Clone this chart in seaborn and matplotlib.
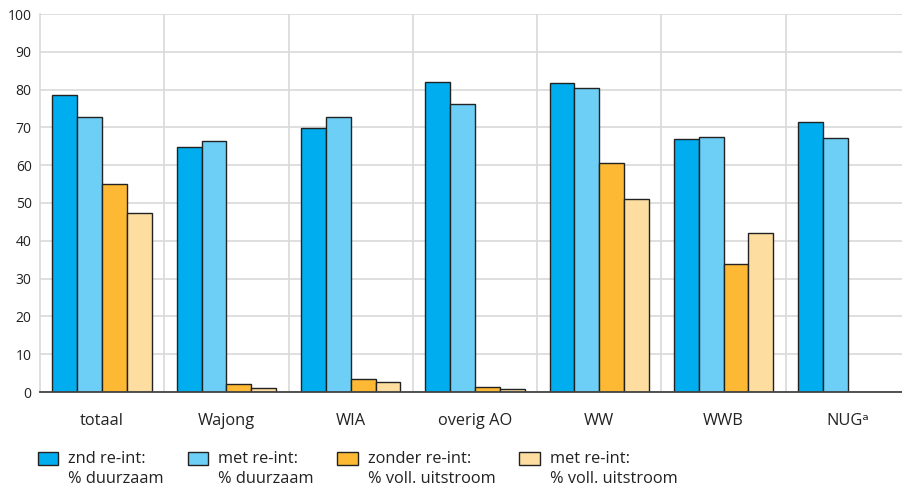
"""
Grouped bar chart: re-integratie per regeling, % duurzaam en % volledige uitstroom.
"""
import numpy as np
import pandas as pd
import seaborn as sns
import matplotlib.pyplot as plt
from matplotlib.patches import Rectangle
from matplotlib.legend_handler import HandlerPatch
from matplotlib.ticker import FixedLocator, MultipleLocator

categories = ['totaal', 'Wajong', 'WIA', 'overig AO', 'WW', 'WWB', 'NUGᵃ']
series = ['znd re-int:\n% duurzaam', 'met re-int:\n% duurzaam',
          'zonder re-int:\n% voll. uitstroom', 'met re-int:\n% voll. uitstroom']

znd_duurzaam = [78.6, 64.8, 69.8, 82.0, 81.7, 66.9, 71.4]
met_duurzaam = [72.8, 66.5, 72.8, 76.2, 80.4, 67.5, 67.2]
zonder_uitstroom = [55.0, 2.0, 3.4, 1.2, 60.6, 33.9, np.nan]
met_uitstroom = [47.4, 1.0, 2.7, 0.9, 51.1, 42.0, np.nan]

colors = ['#00aeef', '#6dcff6', '#fdb933', '#fddda0']

sns.set_style('white')
plt.rcParams['font.family'] = ['Open Sans', 'DejaVu Sans']


def build_frame() -> pd.DataFrame:
    '''Long-format table that seaborn can draw from.'''
    wide = pd.DataFrame({
        'categorie': categories,
        series[0]: znd_duurzaam,
        series[1]: met_duurzaam,
        series[2]: zonder_uitstroom,
        series[3]: met_uitstroom,
    })
    return wide.melt(id_vars='categorie', var_name='reeks', value_name='pct')


def top_square(legend, orig_handle, xdescent, ydescent, width, height,
               fontsize):
    # legend square sits next to the first line of a two-line label
    return Rectangle((-xdescent, -ydescent + 0.68 * fontsize), width, height)


def main():
    df = build_frame()
    fig = plt.figure(figsize=(9.03, 4.88), dpi=100)
    ax = fig.add_axes([40 / 903, 96 / 488, 870 / 903, 378 / 488])

    sns.barplot(data=df, x='categorie', y='pct', hue='reeks',
                hue_order=series, palette=colors, width=0.8, gap=0,
                edgecolor='#222222', linewidth=1.0, saturation=1,
                ax=ax, legend=True, zorder=3)

    ax.set_xlim(-0.5, len(categories) - 0.5)
    ax.set_ylim(0, 100)
    ax.yaxis.set_major_locator(MultipleLocator(10))
    ax.xaxis.set_minor_locator(FixedLocator(np.arange(0.5, len(categories), 1)))
    ax.grid(axis='y', which='major', color='#d9d9d9', linewidth=1.2, zorder=0)
    ax.grid(axis='x', which='minor', color='#d9d9d9', linewidth=1.2, zorder=0)
    ax.set_axisbelow(True)

    for side in ['top', 'right']:
        ax.spines[side].set_visible(False)
    ax.spines['left'].set_color('#d9d9d9')
    ax.spines['left'].set_linewidth(1.2)
    ax.spines['bottom'].set_color('#444444')
    ax.spines['bottom'].set_linewidth(1.3)
    ax.spines['bottom'].set_zorder(4)

    ax.tick_params(axis='x', which='major', length=6, width=1.2,
                   color='#555555', labelsize=11.8, pad=9, labelcolor='#222222')
    ax.tick_params(axis='x', which='minor', length=0)
    ax.tick_params(axis='y', length=0, labelsize=10, pad=6,
                   labelcolor='#222222')
    ax.set_xlabel('')
    ax.set_ylabel('')

    handles, labels = ax.get_legend_handles_labels()
    ax.get_legend().remove()
    leg = fig.legend(handles, labels, loc='lower left',
                     bbox_to_anchor=(38 / 903, 1 / 488),
                     ncol=4, frameon=False, fontsize=11.8, handlelength=1.25,
                     handleheight=0.85, handletextpad=0.6, columnspacing=1.45,
                     borderpad=0, borderaxespad=0,
                     handler_map={Rectangle: HandlerPatch(patch_func=top_square)})
    for t in leg.get_texts():
        t.set_linespacing(1.35)
        t.set_color('#222222')

    fig.savefig('out.png', dpi=100)


if __name__ == '__main__':
    main()
